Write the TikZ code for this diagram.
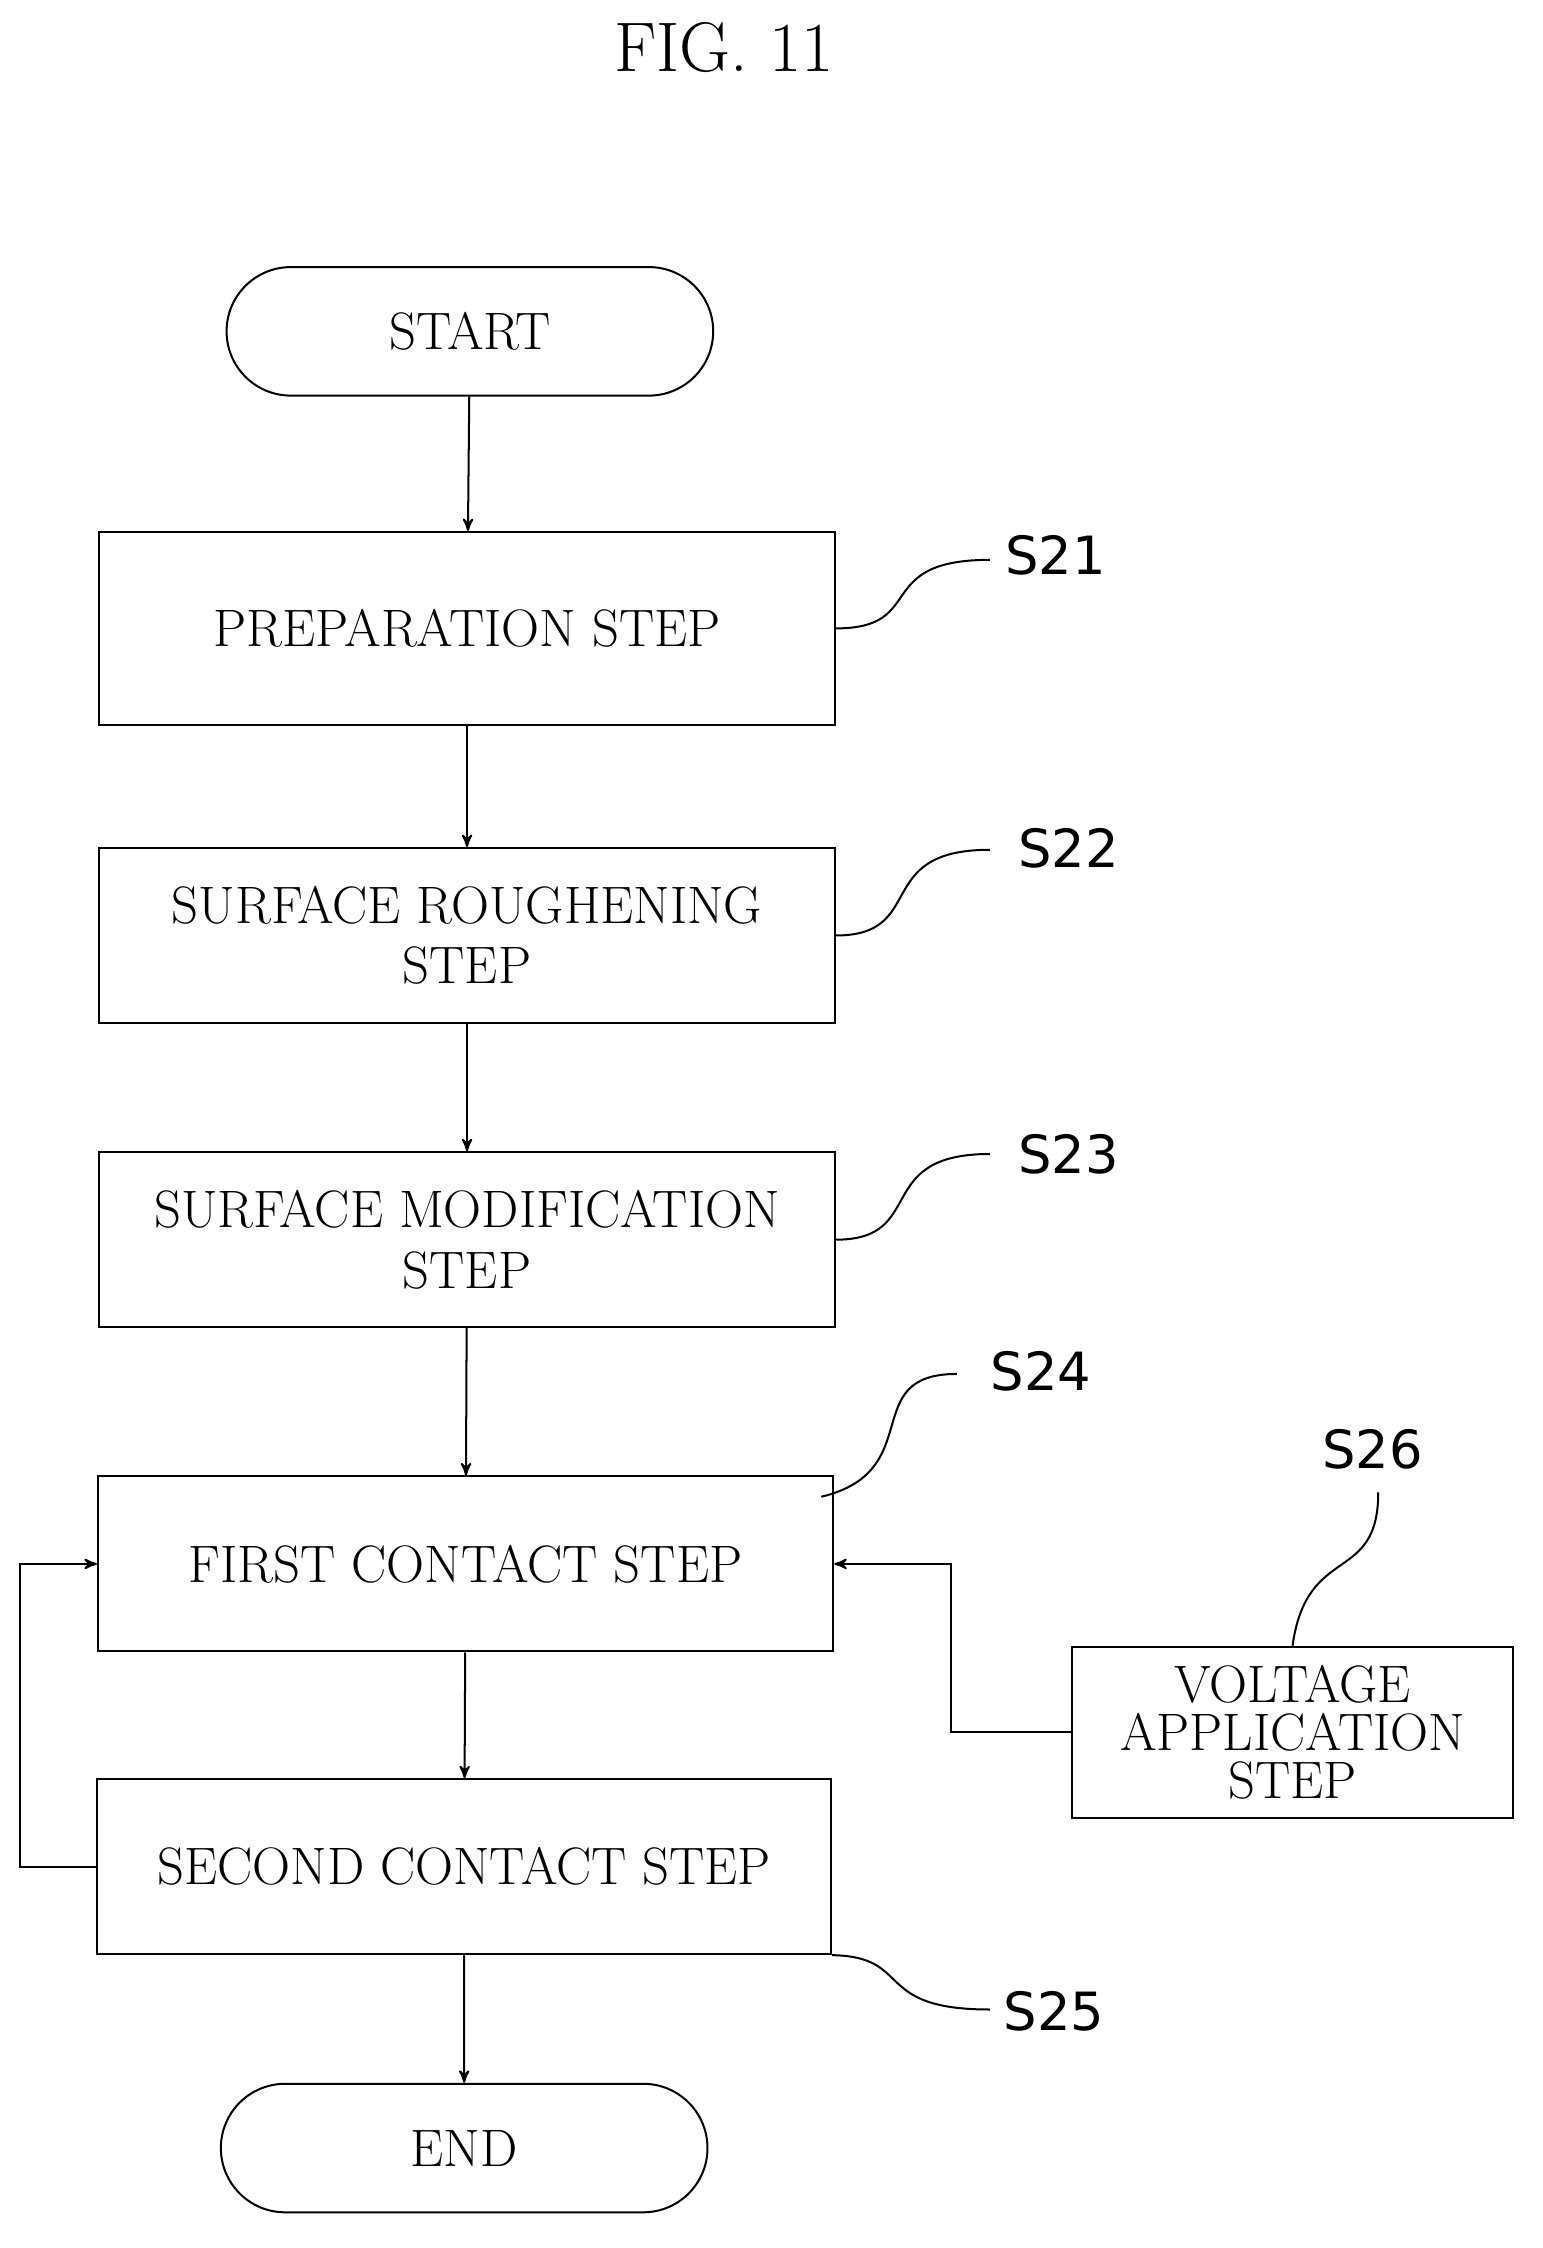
\documentclass[tikz,border=0pt]{standalone}
\usepackage{fontspec}
\newfontfamily\labelfont{DejaVu Sans}
\usetikzlibrary{arrows,positioning,shapes.misc}

\tikzset{
  stepbox/.style={draw, thick, minimum width=10.3cm, minimum height=2.45cm, align=center, inner sep=0, font=\fontsize{21}{24}\selectfont},
  term/.style={draw, thick, rounded rectangle, minimum width=7.05cm, minimum height=1.8cm, font=\fontsize{21}{24}\selectfont},
  tag/.style={font=\labelfont\fontsize{21}{22}\selectfont},
  flow/.style={thick, ->, >=stealth'},
  lead/.style={thick}
}

\begin{document}
\begin{tikzpicture}[x=0.02cm,y=-0.02cm]
\useasboundingbox (0,0) rectangle (1080,1574);
\node[font=\fontsize{28}{30}\selectfont] (title) at (507,33) {FIG. 11};

% main column
\node[term] (start) at (329,232) {START};
\node[stepbox, minimum height=2.7cm] (s21) at (327,440) {PREPARATION STEP};
\node[stepbox] (s22) at (327,655) {SURFACE ROUGHENING\\STEP};
\node[stepbox] (s23) at (327,868) {SURFACE MODIFICATION\\STEP};
\node[stepbox] (s24) at (326,1095) {FIRST CONTACT STEP};
\node[stepbox, minimum width=10.28cm] (s25) at (325,1307) {SECOND CONTACT STEP};
\node[term] (end) at (325,1504) {END};
\node[stepbox, minimum width=6.18cm, minimum height=2.4cm, font=\fontsize{21}{19}\selectfont] (s26) at (905,1213) {VOLTAGE\\APPLICATION\\STEP};

\draw[flow] (start) -- (s21);
\draw[flow] (s21) -- (s22);
\draw[flow] (s22) -- (s23);
\draw[flow] (s23) -- (s24);
\draw[flow] (s24) -- (s25);
\draw[flow] (s25.south -| end) -- (end);
\draw[flow] (s25.west) -- ++(-53,0) |- (s24.west);
\draw[flow] (s26.west) -- ++(-84,0) |- (s24.east);

% step labels
\node[tag] (t21) at (739,389) {S21};
\node[tag] (t22) at (748,594) {S22};
\node[tag] (t23) at (748,808) {S23};
\node[tag] (t24) at (729,960) {S24};
\node[tag] (t26) at (961,1015) {S26};
\node[tag] (t25) at (738,1408) {S25};

\draw[lead] (s21.east) .. controls (650,440) and (610,392) .. (693,392);
\draw[lead] (s22.east) .. controls (650,655) and (610,595) .. (693,595);
\draw[lead] (s23.east) .. controls (650,868) and (610,808) .. (693,808);
\draw[lead] (575,1048) .. controls (650,1030) and (600,962) .. (670,962);
\draw[lead] (s26.north) .. controls (915,1080) and (965,1110) .. (965,1045);
\draw[lead] (s25.south east) .. controls (640,1370) and (610,1407) .. (693,1407);
\end{tikzpicture}
\end{document}
